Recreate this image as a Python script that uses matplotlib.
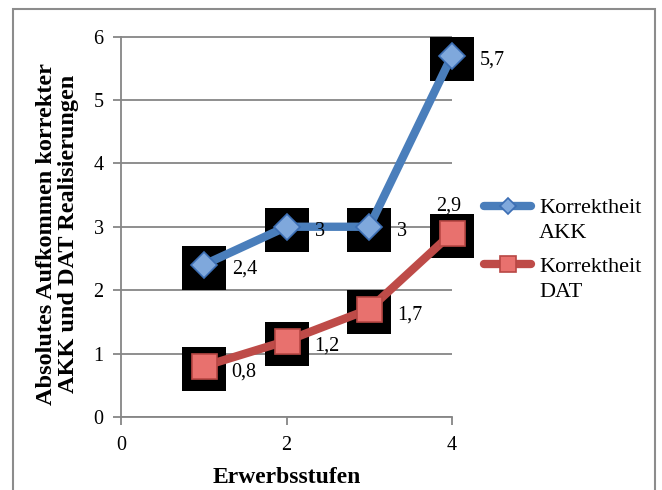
import matplotlib
matplotlib.use("Agg")
import matplotlib.pyplot as plt
import matplotlib.transforms as mtransforms
from matplotlib.patches import Rectangle
from matplotlib.lines import Line2D

# Data
stufen = [1, 2, 3, 4]
akk = [2.4, 3, 3, 5.7]
dat = [0.8, 1.2, 1.7, 2.9]
akk_labels = ["2,4", "3", "3", "5,7"]
dat_labels = ["0,8", "1,2", "1,7", "2,9"]
x_ticks = [0, 2, 4]
y_ticks = [0, 1, 2, 3, 4, 5, 6]

plt.rcParams["font.family"] = ["Liberation Serif", "DejaVu Serif"]

W, H = 662, 490
fig = plt.figure(figsize=(W / 100, H / 100), dpi=100)


def fx(px):
    return px / W


def fy(py):
    return 1 - py / H


# outer frame
fig.patches.append(Rectangle((fx(13), fy(520)), fx(655) - fx(13), fy(9) - fy(520),
                             transform=fig.transFigure, fill=False,
                             edgecolor="#8c8c8c", linewidth=1.5))

ax = fig.add_axes([fx(121), fy(417), fx(452) - fx(121), fy(36.5) - fy(417)])
ax.set_xlim(0, 4)
ax.set_ylim(0, 6)
ax.set_xticks(x_ticks)
ax.set_yticks(y_ticks)
ax.tick_params(axis="both", colors="#868686", labelcolor="black",
               labelsize=14.5, length=5.5, width=1.3, direction="out")
ax.tick_params(axis="y", pad=7)
ax.tick_params(axis="x", pad=8)
ax.grid(axis="y", color="#868686", linewidth=1.3)
ax.set_axisbelow(True)
for side in ["top", "right"]:
    ax.spines[side].set_visible(False)
for side in ["left", "bottom"]:
    ax.spines[side].set_color("#868686")
    ax.spines[side].set_linewidth(1.3)

# black backing squares behind every point
shift = mtransforms.offset_copy(ax.transData, fig=fig, x=0, y=-3, units="dots")
for ys in (akk, dat):
    ax.scatter(stufen, ys, marker="s", s=31 ** 2, color="black", linewidths=0,
               transform=shift, zorder=2, clip_on=False)

akk_style = dict(color="#4a7ebb", linewidth=6, marker="D",
                 markerfacecolor="#7fa8dc", markeredgecolor="#3c6eb4",
                 markeredgewidth=1.2)
dat_style = dict(color="#be4b48", linewidth=6, marker="s",
                 markerfacecolor="#e8716e", markeredgecolor="#b84744",
                 markeredgewidth=1.2)

ax.plot(stufen, akk, markersize=13.5, solid_capstyle="butt", zorder=3,
        clip_on=False, **akk_style)
ax.plot(stufen, dat, markersize=18, solid_capstyle="butt", zorder=3,
        clip_on=False, **dat_style)

# value labels
for x, y, t in zip(stufen, akk, akk_labels):
    ax.annotate(t, (x, y), xytext=(28, -9), textcoords="offset pixels",
                fontsize=14.5, va="baseline", ha="left", zorder=4)
for i, (x, y, t) in enumerate(zip(stufen, dat, dat_labels)):
    if i == len(stufen) - 1:
        ax.annotate(t, (x, y), xytext=(-3, 23), textcoords="offset pixels",
                    fontsize=14.5, va="baseline", ha="center", zorder=4)
    else:
        ax.annotate(t, (x, y), xytext=(28, -10), textcoords="offset pixels",
                    fontsize=14.5, va="baseline", ha="left", zorder=4)

# axis titles
fig.text(fx(286.5), fy(483), "Erwerbsstufen", ha="center", va="baseline",
         fontsize=17, fontweight="bold")
fig.text(fx(57.5), fy(234), "Absolutes Aufkommen korrekter\nAKK und DAT Realisierungen",
         rotation=90, ha="center", va="center", multialignment="center",
         fontsize=17.5, fontweight="bold", linespacing=1.02)

# legend
legend_rows = [
    (206, akk_style, 8, ("Korrektheit", "AKK"), (213, 238)),
    (264, dat_style, 11, ("Korrektheit", "DAT"), (272, 297)),
]
for ly, style, ms, texts, baselines in legend_rows:
    fig.add_artist(Line2D([fx(484), fx(531)], [fy(ly), fy(ly)],
                          transform=fig.transFigure, solid_capstyle="round",
                          **{k: v for k, v in style.items() if k != "marker"}))
    fig.add_artist(Line2D([fx(507.5)], [fy(ly)], transform=fig.transFigure,
                          linestyle="none", markersize=ms,
                          **{k: v for k, v in style.items()
                             if k not in ("color", "linewidth")}))
    for t, b in zip(texts, baselines):
        fig.text(fx(539), fy(b), t, ha="left", va="baseline", fontsize=16)

fig.savefig("out.png", dpi=100)
